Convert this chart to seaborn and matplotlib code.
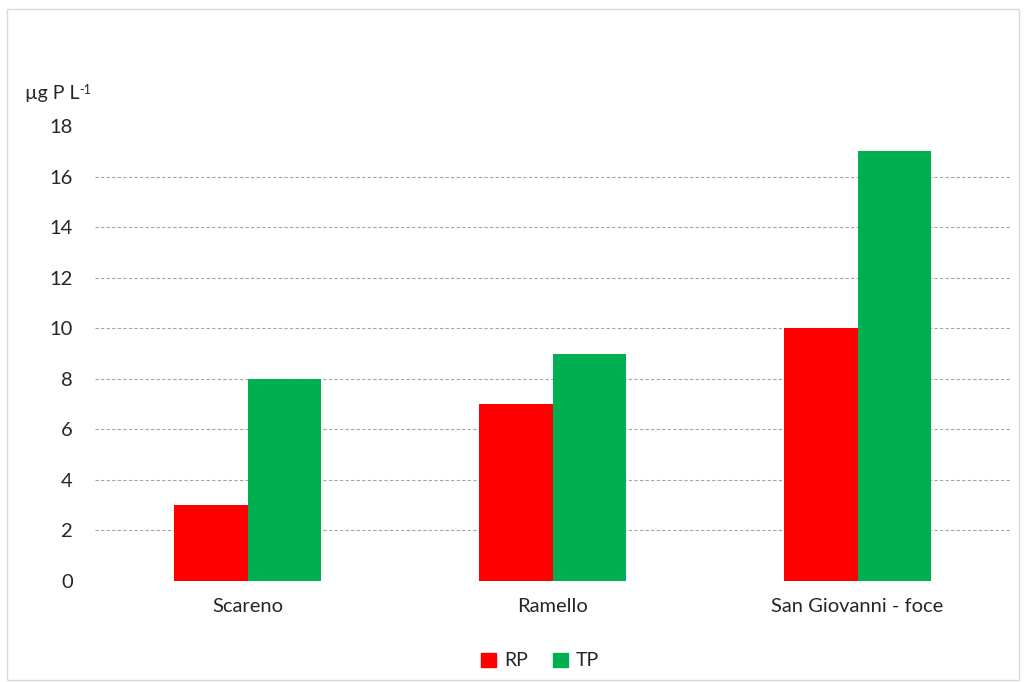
import matplotlib
matplotlib.use("Agg")
import matplotlib.pyplot as plt
import seaborn as sns
import pandas as pd
from matplotlib.patches import Rectangle

sites = ["Scareno", "Ramello", "San Giovanni - foce"]
rp = [3, 7, 10]
tp = [8, 9, 17]
series = ["RP", "TP"]
colors = {"RP": "#FF0000", "TP": "#00B050"}
yticks = [0, 2, 4, 6, 8, 10, 12, 14, 16, 18]

df = pd.DataFrame({
    "site": sites * 2,
    "value": rp + tp,
    "series": ["RP"] * 3 + ["TP"] * 3,
})

sns.set_style("white")
plt.rcParams["font.family"] = ["Lato", "DejaVu Sans"]

fig = plt.figure(figsize=(10.28, 6.82), dpi=100)
ax = fig.add_axes([95 / 1028, 101 / 682, 915 / 1028, 455 / 682])

sns.barplot(data=df, x="site", y="value", hue="series", palette=colors,
            width=0.48, gap=0, saturation=1, ax=ax, legend=True, edgecolor="none")

ax.set_xlim(-0.5, 2.5)
ax.set_ylim(0, 18)
ax.set_yticks(yticks)
ax.set_yticklabels([str(t) for t in yticks], fontsize=14.5)
ax.tick_params(axis="x", labelsize=14.5, length=0, pad=12)
ax.tick_params(axis="y", length=0, pad=16)
ax.set_xlabel("")
ax.set_ylabel("")
for t in yticks[1:-1]:
    ax.axhline(t, color="#A6A6A6", lw=0.8, ls=(0, (3, 2)), zorder=0)
for s in ax.spines.values():
    s.set_visible(False)

leg = ax.get_legend()
leg.remove()
handles = [Rectangle((0, 0), 1, 1, color=colors[s]) for s in series]
fig.legend(handles, series, loc="center", bbox_to_anchor=(540 / 1028, 1 - 661 / 682),
           ncol=2, frameon=False, fontsize=14, handlelength=0.75, handleheight=0.75,
           handletextpad=0.4, columnspacing=1.3)

ylab = fig.text(25 / 1028, 1 - 93 / 682, "µg P L", fontsize=14, ha="left", va="center")
fig.text(0, 0, "-1", fontsize=9, ha="left", va="top")
sup = ax.annotate("-1", xy=(1.0, 1.05), xycoords=ylab, ha="left", va="top",
                  fontsize=9, annotation_clip=False)
fig.texts.pop(-1)

fig.patches.append(Rectangle((7 / 1028, 2 / 682), 1012 / 1028, 671 / 682,
                             transform=fig.transFigure, fill=False,
                             edgecolor="#D9D9D9", lw=1))

fig.savefig("out.png", dpi=100)
